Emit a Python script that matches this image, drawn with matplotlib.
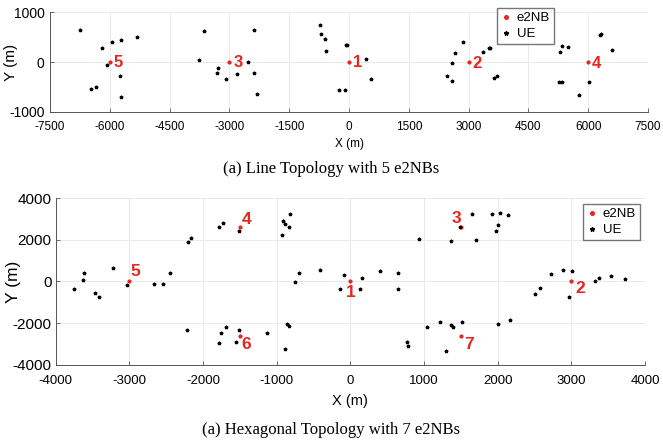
import matplotlib.pyplot as plt

# ---- line topology data
line_bs_x = [0, 3000, -3000, 6000, -6000]
line_bs_y = [0, 0, 0, 0, 0]
line_ue_x = [-6740, -6196, -5943, -5707, -5319, -6078, -5741, -6466, -6356, -5707,
             -3633, -3760, -3279, -3305, -3077, -2799, -2529, -2394, -2394, -2318,
             -733, -691, -599, -565, -75, -40, 426, 560, -242, -109,
             2859, 2658, 2592, 2450, 2592, 3352, 3520, 3545, 3645, 3703,
             6320, 6300, 6596, 5350, 5492, 5292, 5258, 5333, 5760, 6019]
line_ue_y = [638, 288, 395, 436, 497, -60, -281, -543, -497, -697,
             623, 47, -121, -214, -349, -235, 0, 650, -214, -650,
             744, 570, 456, 221, 342, 342, 60, -335, -563, -563,
             395, 181, -27, -281, -376, 208, 274, 288, -322, -281,
             563, 546, 242, 322, 301, 194, -409, -402, -664, -402]
line_lbl = ['1', '2', '3', '4', '5']
line_lbl_x = [100, 3100, -2900, 6100, -5900]
line_lbl_y = [0, -30, 0, -30, 0]

# ---- hexagonal topology data
hex_bs_x = [0, 3000, 1500, -1500, -3000, -1500, 1500]
hex_bs_y = [0, 0, 2598, 2598, 0, -2598, -2598]
hex_ue_x = [-3755, -3633, -3615, -3465, -3406, -3224, -3029, -2667, -2549, -2453,
            -2204, -2163, -1787, -1723, -1515,
            -921, -911, -893, -834, -816, -748, -703, -413,
            -2213, -1751, -1687, -1782, -1515, -1555, -1134, -866, -839, -893,
            -82, -145, 127, 159, 399, 643, 643,
            938, 1373, 1495, 1649, 1708, 1930, 2034, 2147, 1975, 2007,
            2505, 2573, 2723, 2890, 3012, 2963, 3325, 3370, 3542, 3733,
            1042, 1214, 1364, 1395, 1513, 2011, 2170, 766, 788, 1300]
hex_ue_y = [-371, 65, 387, -532, -758, 645, -161, -145, -145, 387,
            1887, 2065, 2613, 2823, 2420,
            2242, 2903, 2742, 2597, 3258, -48, 403, 565,
            -2323, -2468, -2161, -2936, -2339, -2887, -2452, -2032, -2113, -3242,
            323, -339, -339, 145, 516, 387, -339,
            2016, 1936, 2597, 3258, 1984, 3258, 3290, 3178, 2436, 2726,
            -597, -323, 355, 548, 516, -742, 32, 177, 274, 113,
            -2178, -1952, -2065, -2161, -1936, -2049, -1855, -2903, -3113, -3339]
hex_lbl = ['1', '2', '3', '4', '5', '6', '7']
hex_lbl_x = [-60, 3050, 1380, -1470, -2980, -1480, 1540]
hex_lbl_y = [-550, -360, 3030, 2950, 480, -3020, -3020]

red = '#e8261e'
plt.rcParams['font.family'] = ['Liberation Sans', 'DejaVu Sans']
plt.rcParams['axes.unicode_minus'] = False

fig = plt.figure(figsize=(6.63, 4.45), dpi=100)


def style_axes(ax):
    for s in ['top', 'right']:
        ax.spines[s].set_visible(False)
    for s in ['left', 'bottom']:
        ax.spines[s].set_color('#555555')
        ax.spines[s].set_linewidth(0.7)
    ax.grid(True, color='#e6e6e6', linewidth=0.6)
    ax.set_axisbelow(True)
    ax.tick_params(direction='in', length=3, width=0.6, color='#555555')


def add_legend(ax, x, y):
    ax.legend(loc='upper left', bbox_to_anchor=(x, y), borderaxespad=0, fontsize=9.5,
              frameon=True, fancybox=False, edgecolor='#555555', handlelength=0.8,
              handletextpad=0.4, borderpad=0.3, labelspacing=0.3, markerscale=1.3)


# top chart
ax1 = fig.add_axes([0.0754, 0.749, 0.902, 0.223])
ax1.plot(line_bs_x, line_bs_y, '.', color=red, markersize=4, label='e2NB')
ax1.plot(line_ue_x, line_ue_y, '*', color='black', markersize=2.5, label='UE')
for t, x, y in zip(line_lbl, line_lbl_x, line_lbl_y):
    ax1.text(x, y, t, color=red, fontsize=12, fontweight='bold', va='center', ha='left')
ax1.set_xlim(-7500, 7500)
ax1.set_ylim(-1000, 1000)
ax1.set_xticks(range(-7500, 7501, 1500))
ax1.set_yticks([-1000, 0, 1000])
style_axes(ax1)
ax1.tick_params(axis='x', labelsize=8.5, pad=6.5)
ax1.tick_params(axis='y', labelsize=10, pad=4)
ax1.set_xlabel('X (m)', fontsize=8.5, labelpad=4)
ax1.set_ylabel('Y (m)', fontsize=11)
ax1.yaxis.set_label_coords(-0.0535, 0.5)
add_legend(ax1, 0.7475, 1.045)

fig.text(0.5, 0.620, '(a) Line Topology with 5 e2NBs', ha='center', va='center',
         fontsize=12, family='Liberation Serif')

# bottom chart
ax2 = fig.add_axes([0.084, 0.18, 0.8888, 0.375])
ax2.plot(hex_bs_x, hex_bs_y, '.', color=red, markersize=4, label='e2NB')
ax2.plot(hex_ue_x, hex_ue_y, '*', color='black', markersize=2.5, label='UE')
for t, x, y in zip(hex_lbl, hex_lbl_x, hex_lbl_y):
    ax2.text(x, y, t, color=red, fontsize=12.5, fontweight='bold', va='center', ha='left')
ax2.set_xlim(-4000, 4000)
ax2.set_ylim(-4000, 4000)
ax2.set_xticks(range(-4000, 4001, 1000))
ax2.set_yticks(range(-4000, 4001, 2000))
style_axes(ax2)
ax2.tick_params(axis='x', labelsize=9.5, pad=7)
ax2.tick_params(axis='y', labelsize=11, pad=3)
ax2.set_xlabel('X (m)', fontsize=10.5, labelpad=5)
ax2.set_ylabel('Y (m)', fontsize=12.5)
ax2.yaxis.set_label_coords(-0.059, 0.5)
add_legend(ax2, 0.895, 0.964)

fig.text(0.5, 0.034, '(a) Hexagonal Topology with 7 e2NBs', ha='center', va='center',
         fontsize=12, family='Liberation Serif')

fig.savefig('out.png', dpi=100)
